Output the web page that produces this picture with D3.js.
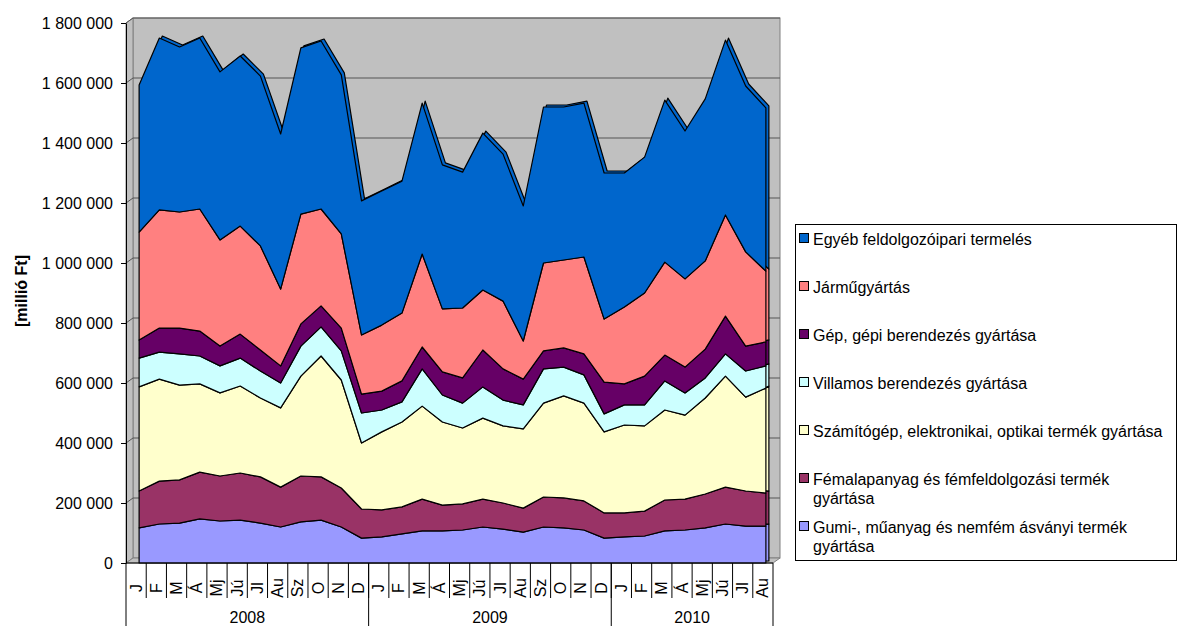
<!DOCTYPE html>
<html lang="hu">
<head>
<meta charset="UTF-8"/>
<title>Feldolgozóipari termelés ágazatonként</title>
<script src="https://d3js.org/d3.v7.min.js"></script>
<style>
	body { margin: 0; background: #fff; }
	text { font-family: "Liberation Sans", Arial, sans-serif; fill: #000; }
	.area { stroke: #000; stroke-width: 1.2; stroke-linejoin: round; }
	.grid { stroke: #555; stroke-width: 1; }
	.wall { fill: #c0c0c0; stroke: #808080; stroke-width: 1; }
</style>
</head>
<body>
<div id="chart"></div>
<script>
var w = 1177;
var h = 626;

// categories
var months = ["J","F","M","Á","Mj","Jú","Jl","Au","Sz","O","N","D",
              "J","F","M","Á","Mj","Jú","Jl","Au","Sz","O","N","D",
              "J","F","M","Á","Mj","Jú","Jl","Au"];
var years = ["2008", "2009", "2010"];
var yearLengths = [12, 12, 8];
var yTicks = [0, 200000, 400000, 600000, 800000, 1000000, 1200000, 1400000, 1600000, 1800000];

// series values, millió Ft
var gumi = [117000,130000,133000,147000,140000,143000,133000,120000,137000,143000,120000,83000,
            87000,97000,107000,107000,110000,120000,113000,103000,120000,117000,110000,83000,
            87000,90000,107000,110000,117000,130000,123000,123000];
var femalap = [123000,143000,144000,156000,150000,157000,154000,133000,153000,144000,130000,97000,
               90000,90000,106000,86000,87000,93000,87000,80000,100000,100000,97000,84000,
               80000,83000,103000,103000,113000,123000,117000,110000];
var szamitogep = [347000,340000,316000,294000,277000,290000,263000,264000,333000,403000,360000,220000,
                  260000,283000,310000,277000,253000,270000,257000,264000,313000,340000,326000,270000,
                  293000,284000,300000,280000,320000,370000,313000,350000];
var villamos = [96000,90000,104000,93000,90000,93000,90000,83000,100000,97000,97000,100000,
                73000,67000,124000,90000,83000,104000,86000,80000,114000,96000,94000,60000,
                67000,70000,97000,74000,67000,74000,87000,74000];
var gep = [60000,80000,86000,83000,66000,80000,70000,57000,74000,70000,76000,63000,
           63000,70000,73000,77000,84000,123000,104000,86000,60000,64000,70000,106000,
           70000,96000,86000,86000,96000,126000,83000,80000];
var jarmu = [360000,394000,387000,407000,354000,360000,347000,256000,366000,323000,314000,197000,
             220000,226000,310000,210000,233000,200000,226000,127000,293000,293000,323000,210000,
             256000,277000,310000,294000,294000,337000,314000,236000];
var egyeb = [490000,573000,550000,570000,560000,567000,566000,517000,554000,560000,530000,447000,
             447000,440000,503000,480000,453000,523000,490000,450000,520000,510000,513000,487000,
             447000,453000,540000,493000,540000,583000,553000,544000];

var keys = ["gumi", "femalap", "szamitogep", "villamos", "gep", "jarmu", "egyeb"];
var seriesNames = {
	gumi: ["Gumi-, műanyag és nemfém ásványi termék", "gyártása"],
	femalap: ["Fémalapanyag és fémfeldolgozási termék", "gyártása"],
	szamitogep: ["Számítógép, elektronikai, optikai termék gyártása"],
	villamos: ["Villamos berendezés gyártása"],
	gep: ["Gép, gépi berendezés gyártása"],
	jarmu: ["Járműgyártás"],
	egyeb: ["Egyéb feldolgozóipari termelés"]
};
var seriesColors = {
	gumi: "#9999ff", femalap: "#993366", szamitogep: "#ffffcc", villamos: "#ccffff",
	gep: "#660066", jarmu: "#ff8080", egyeb: "#0066cc"
};

var rows = months.map(function(m, i){
	return { idx: i, gumi: gumi[i], femalap: femalap[i], szamitogep: szamitogep[i],
		villamos: villamos[i], gep: gep[i], jarmu: jarmu[i], egyeb: egyeb[i] };
});
var stacked = d3.stack().keys(keys)(rows);

// 3D depth of the walls
var dx = 7, dy = -5;
var plotLeft = 126, plotRight = 773, plotBottom = 563, plotTop = 23;

var xScale = d3.scaleBand().domain(d3.range(months.length)).range([plotLeft, plotRight]);
var yScale = d3.scaleLinear().domain([0, 1800000]).range([plotBottom, plotTop]);
var bw = xScale.bandwidth();
function px(i){ return xScale(i) + bw / 2 + 3; }

var svg = d3.select("#chart").append("svg").attr("width", w).attr("height", h);

// walls
svg.append("rect").attr("class", "wall")
	.attr("x", plotLeft + dx).attr("y", plotTop + dy)
	.attr("width", plotRight - plotLeft).attr("height", plotBottom - plotTop);
svg.append("polygon").attr("class", "wall")
	.attr("points", [[plotLeft, plotTop], [plotLeft + dx, plotTop + dy], [plotLeft + dx, plotBottom + dy], [plotLeft, plotBottom]].join(" "));
svg.append("polygon").attr("class", "wall")
	.attr("points", [[plotLeft, plotBottom], [plotLeft + dx, plotBottom + dy], [plotRight + dx, plotBottom + dy], [plotRight, plotBottom]].join(" "));

// gridlines on the back wall
yTicks.filter(function(v){ return v > 0; }).forEach(function(v){
	var y = yScale(v);
	svg.append("line").attr("class", "grid")
		.attr("x1", plotLeft + dx).attr("x2", plotRight + dx).attr("y1", y + dy).attr("y2", y + dy);
	svg.append("line").attr("class", "grid")
		.attr("x1", plotLeft).attr("x2", plotLeft + dx).attr("y1", y).attr("y2", y + dy);
});

var area = d3.area()
	.x(function(d){ return px(d.data.idx); })
	.y0(function(d){ return yScale(d[0]); })
	.y1(function(d){ return yScale(d[1]); });

// depth faces, then front faces
var back = svg.append("g").attr("transform", "translate(3,-2)");
back.selectAll("path").data(stacked).enter().append("path")
	.attr("class", "area")
	.attr("fill", function(s){ return seriesColors[s.key]; })
	.attr("d", area);
svg.append("g").selectAll("path").data(stacked).enter().append("path")
	.attr("class", "area")
	.attr("fill", function(s){ return seriesColors[s.key]; })
	.attr("d", area);

// y axis
var fmt = d3.formatLocale({ decimal: ",", thousands: " ", grouping: [3], currency: ["", " Ft"] }).format(",d");
var yAxis = d3.axisLeft(yScale).tickValues(yTicks).tickSize(5).tickSizeOuter(0).tickPadding(8).tickFormat(fmt);
var gy = svg.append("g").attr("transform", "translate(" + plotLeft + ",0)").call(yAxis);
gy.selectAll("text").style("font-size", "16px").attr("font-family", null);
gy.select(".domain").attr("stroke", "#000");

svg.append("text")
	.attr("transform", "translate(21,291) rotate(-90)")
	.attr("text-anchor", "middle")
	.attr("dominant-baseline", "central")
	.style("font-size", "16px").style("font-weight", "bold")
	.text("[millió Ft]");

// category axis
svg.append("line").attr("x1", plotLeft).attr("x2", plotRight).attr("y1", plotBottom).attr("y2", plotBottom).attr("stroke", "#000");
months.forEach(function(m, i){
	if (i > 0) {
		svg.append("line").attr("x1", xScale(i)).attr("x2", xScale(i))
			.attr("y1", plotBottom).attr("y2", 598).attr("stroke", "#000");
	}
	svg.append("text")
		.attr("transform", "translate(" + (xScale(i) + bw / 2) + ",588) rotate(-90)")
		.attr("text-anchor", "middle")
		.attr("dominant-baseline", "central")
		.style("font-size", "16px")
		.text(m);
});
var start = 0;
years.forEach(function(yr, k){
	var x0 = xScale(start);
	var x1 = start + yearLengths[k] < months.length ? xScale(start + yearLengths[k]) : plotRight;
	svg.append("line").attr("x1", x0).attr("x2", x0).attr("y1", plotBottom).attr("y2", h).attr("stroke", "#000");
	if (k == years.length - 1) {
		svg.append("line").attr("x1", x1).attr("x2", x1).attr("y1", plotBottom).attr("y2", h).attr("stroke", "#000");
	}
	svg.append("text")
		.attr("x", (x0 + x1) / 2).attr("y", 623)
		.attr("text-anchor", "middle")
		.style("font-size", "16px")
		.text(yr);
	start += yearLengths[k];
});

// legend
var legend = svg.append("g");
legend.append("rect")
	.attr("x", 795.5).attr("y", 224.5).attr("width", 381).attr("height", 336)
	.attr("fill", "#fff").attr("stroke", "#000");
var legendKeys = keys.slice().reverse();
var baselines = [245, 293, 341, 389, 437, 485, 533];
legendKeys.forEach(function(k, i){
	var by = baselines[i];
	legend.append("rect")
		.attr("x", 799.5).attr("y", by - 11.5).attr("width", 9).attr("height", 9)
		.attr("fill", seriesColors[k]).attr("stroke", "#000");
	seriesNames[k].forEach(function(line, j){
		legend.append("text")
			.attr("x", 813).attr("y", by + j * 19)
			.style("font-size", "16px")
			.text(line);
	});
});
</script>
</body>
</html>
